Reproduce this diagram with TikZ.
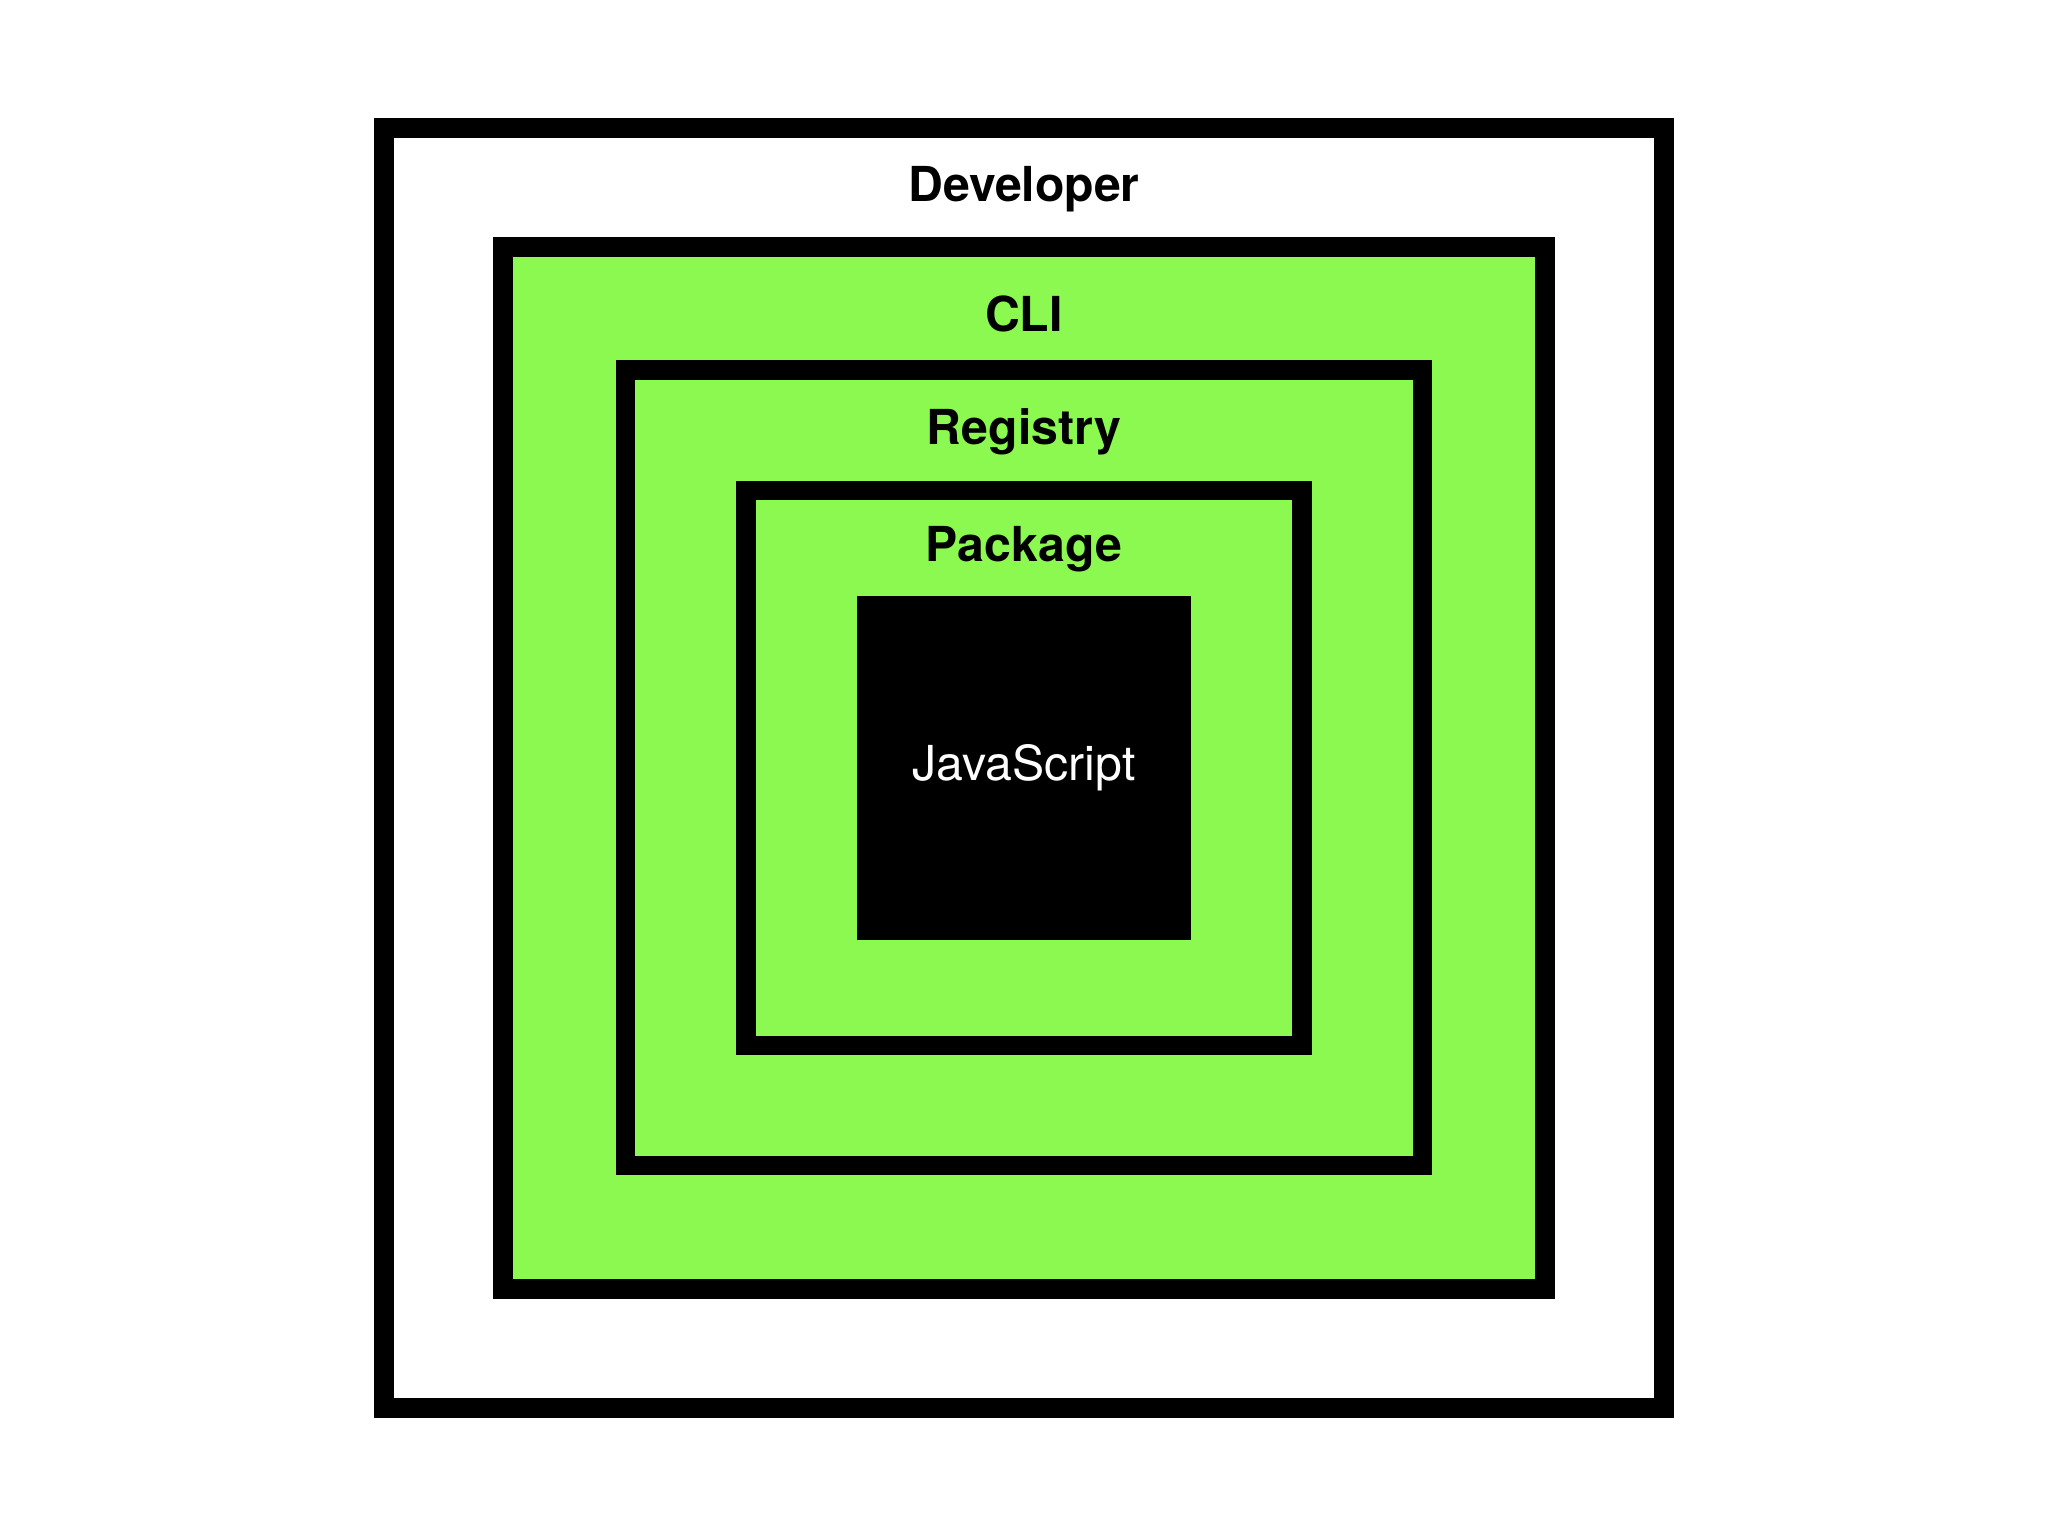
\documentclass[tikz,border=0pt]{standalone}
\usepackage{fontspec}
\setmainfont{TeX Gyre Heros}
\usetikzlibrary{calc}

\definecolor{layergreen}{HTML}{8BF94F}

\begin{document}
\begin{tikzpicture}

\tikzset{
    layer/.style = {
    draw, line width=0.15cm, inner sep=0, outer sep=0
    },
    caption/.style = {
    font=\fontsize{10.5}{12}\selectfont\bfseries
    }
}

\useasboundingbox (0,0) rectangle (15.68,11.76);

\node (developer) [layer, fill=white, minimum width=9.80cm, minimum height=9.80cm] at (7.84,5.88) {};
\node (cli) [layer, fill=layergreen, minimum width=7.98cm, minimum height=7.98cm] at (7.84,5.88) {};
\node (registry) [layer, fill=layergreen, minimum width=6.10cm, minimum height=6.09cm] at (7.84,5.88) {};
\node (package) [layer, fill=layergreen, minimum width=4.26cm, minimum height=4.25cm] at (7.84,5.88) {};
\node (javascript) [fill=black, inner sep=0, minimum width=2.56cm, minimum height=2.64cm] at (7.84,5.88) {};

\node (l-developer) [caption] at ([yshift=-0.47cm]developer.north) {Developer};
\node (l-cli) [caption] at ([yshift=-0.51cm]cli.north) {CLI};
\node (l-registry) [caption] at ([yshift=-0.47cm]registry.north) {Registry};
\node (l-package) [caption] at ([yshift=-0.45cm]package.north) {Package};
\node (l-javascript) [font=\fontsize{10.5}{12}\selectfont, text=white] at (javascript.center) {JavaScript};

\end{tikzpicture}
\end{document}
